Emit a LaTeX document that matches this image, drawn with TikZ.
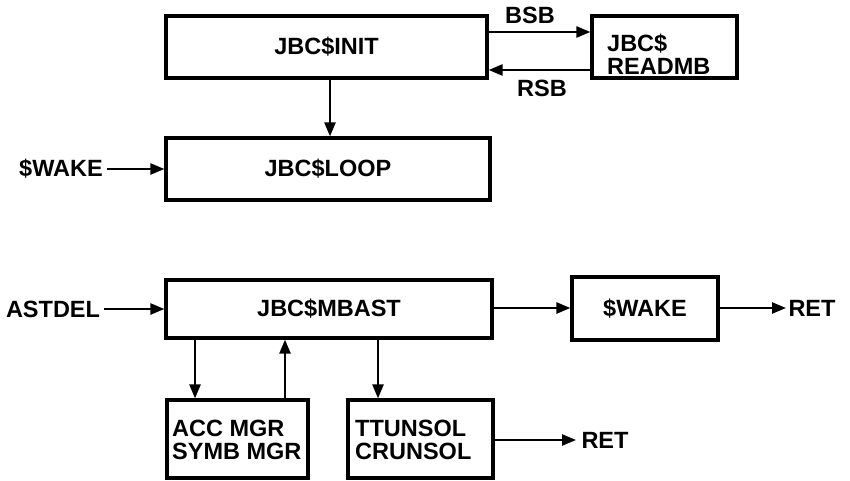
\documentclass[tikz,border=0pt]{standalone}
\usepackage{fontspec}
\setmainfont{Liberation Sans}
\usetikzlibrary{arrows.meta}
\tikzset{
  blk/.style={draw, line width=3.2pt, inner sep=0pt},
  txt/.style={font=\bfseries\fontsize{23.5}{23}\selectfont, inner sep=0pt, align=left},
  arr/.style={line width=2.4pt, -{Triangle[length=14pt,width=11pt]}},
}
\begin{document}
\begin{tikzpicture}[x=1pt,y=-1pt]
\useasboundingbox (0,0) rectangle (850,481);
% boxes
\node[blk, minimum width=321pt, minimum height=62pt] (init) at (326.5,47) {};
\node[txt] at (init.center) {JBC\$INIT};
\node[blk, minimum width=145pt, minimum height=62pt] (readmb) at (664.5,47) {};
\node[txt, anchor=west] at (607,54) {JBC\$\\READMB};
\node[blk, minimum width=324pt, minimum height=62pt] (loop) at (328,169) {};
\node[txt] at (loop.center) {JBC\$LOOP};
\node[blk, minimum width=326pt, minimum height=58pt] (mbast) at (329,309) {};
\node[txt] at (mbast.center) {JBC\$MBAST};
\node[blk, minimum width=146pt, minimum height=63pt] (swake) at (645,308.5) {};
\node[txt] at (swake.center) {\$WAKE};
\node[blk, minimum width=141pt, minimum height=78pt] (acc) at (237.5,439) {};
\node[txt, anchor=west] at (172,440) {ACC MGR\\SYMB MGR};
\node[blk, minimum width=145pt, minimum height=78pt] (tt) at (420.5,439) {};
\node[txt, anchor=west] at (355,440) {TTUNSOL\\CRUNSOL};
% labels
\node[txt] (bsb) at (530,15) {BSB};
\node[txt] (rsb) at (542,88) {RSB};
\node[txt] (wakein) at (61,169) {\$WAKE};
\node[txt] (astdel) at (53,309) {ASTDEL};
\node[txt] (ret1) at (812,308) {RET};
\node[txt] (ret2) at (605,440) {RET};
% connectors
\draw[arr] (init.east |- 0,32) -- (readmb.west |- 0,32);
\draw[arr] (readmb.west |- 0,70) -- (init.east |- 0,70);
\draw[arr] (init.south -| 330,0) -- (loop.north -| 330,0);
\draw[arr] ([xshift=4pt]wakein.east) -- (wakein.east -| loop.west);
\draw[arr] ([xshift=4pt]astdel.east) -- (astdel.east -| mbast.west);
\draw[arr] (mbast.east |- 0,308) -- (swake.west |- 0,308);
\coordinate (r1) at (786,308);
\draw[arr] (swake.east |- 0,308) -- (r1);
\draw[arr] (mbast.south -| 195,0) -- (acc.north -| 195,0);
\draw[arr] (acc.north -| 285,0) -- (mbast.south -| 285,0);
\draw[arr] (mbast.south -| 378,0) -- (tt.north -| 378,0);
\coordinate (r2) at (576,440);
\draw[arr] (tt.east |- 0,440) -- (r2);
\end{tikzpicture}
\end{document}
